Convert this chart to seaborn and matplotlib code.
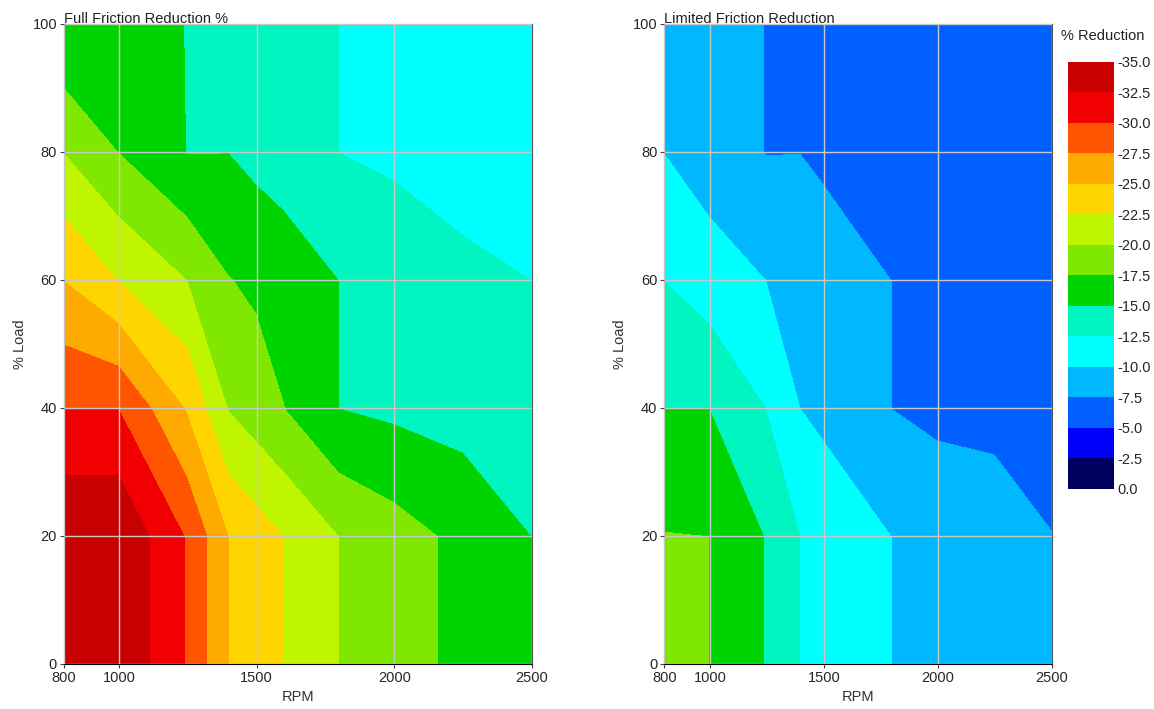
import matplotlib
matplotlib.use("Agg")
import matplotlib.pyplot as plt
from matplotlib.colors import ListedColormap, BoundaryNorm
import seaborn as sns

# grid of the friction tables
rpm = [800, 1000, 1250, 1400, 1500, 1600, 1800, 2000, 2250, 2500]
load = [0, 20, 40, 60, 80, 100]

# one row per load value
full_reduction = [
    [-34.8, -34.8, -29.8, -25.0, -23.75, -22.5, -20.0, -18.6, -16.9, -15.0],
    [-34.8, -34.8, -29.8, -25.0, -23.75, -22.5, -20.0, -18.6, -16.9, -15.0],
    [-30.0, -30.0, -24.8, -19.9, -18.7, -17.55, -15.0, -14.5, -14.0, -13.5],
    [-25.0, -22.5, -20.0, -17.6, -17.08, -16.5, -15.0, -14.3, -13.0, -12.5],
    [-20.0, -17.5, -14.95, -14.98, -14.3, -13.75, -12.5, -12.0, -11.6, -11.2],
    [-15.1, -16.0, -14.95, -14.0, -13.6, -13.2, -12.5, -12.0, -11.5, -11.0],
]
limited_reduction = [
    [-17.6, -17.5, -14.9, -12.5, -11.9, -11.25, -10.0, -9.0, -8.4, -7.55],
    [-17.6, -17.5, -14.9, -12.5, -11.9, -11.25, -10.0, -9.0, -8.4, -7.55],
    [-15.0, -15.0, -12.5, -10.0, -9.37, -8.75, -7.5, -7.0, -7.0, -6.6],
    [-12.5, -11.24, -10.0, -9.2, -8.75, -8.3, -7.5, -7.0, -6.6, -6.2],
    [-10.0, -8.76, -7.45, -7.48, -7.09, -6.7, -6.5, -6.2, -5.9, -5.6],
    [-9.0, -8.5, -7.45, -7.0, -6.8, -6.6, -6.3, -6.0, -5.7, -5.4],
]

levels = [-35.0, -32.5, -30.0, -27.5, -25.0, -22.5, -20.0, -17.5,
          -15.0, -12.5, -10.0, -7.5, -5.0, -2.5, 0.0]
band_colors = ["#c80000", "#f00000", "#ff5500", "#ffaa00", "#ffd500",
               "#c0f500", "#80e800", "#00d400", "#00f5c0", "#00ffff",
               "#00b8ff", "#0060ff", "#0000ff", "#000060"]

sns.set_style("white")
plt.rcParams["font.family"] = ["Liberation Sans", "DejaVu Sans"]
plt.rcParams["axes.unicode_minus"] = False

cmap = ListedColormap(band_colors)
norm = BoundaryNorm(levels, cmap.N)

fig = plt.figure(figsize=(11.54, 7.09), dpi=100)
ax_full = fig.add_axes([0.0555, 0.0635, 0.4055, 0.9027])
ax_lim = fig.add_axes([0.5756, 0.0635, 0.3357, 0.9027])

for ax, values, title in [(ax_full, full_reduction, "Full Friction Reduction %"),
                          (ax_lim, limited_reduction, "Limited Friction Reduction")]:
    cs = ax.contourf(rpm, load, values, levels=levels, cmap=cmap, norm=norm)
    ax.set_xlim(800, 2500)
    ax.set_ylim(0, 100)
    ax.set_xticks([800, 1000, 1500, 2000, 2500])
    ax.set_yticks([0, 20, 40, 60, 80, 100])
    ax.set_axisbelow(False)
    ax.grid(True, color="#c8c8c8", linewidth=1)
    ax.tick_params(labelsize=10.5, length=3, width=0.8, color="#444444",
                   pad=2, direction="out", bottom=True, left=True)
    ax.set_xlabel("RPM", fontsize=10.5, labelpad=4, color="#333333")
    ax.set_ylabel("% Load", fontsize=10.5, labelpad=4, color="#333333")
    ax.set_title(title, loc="left", fontsize=10.5, pad=1, color="#222222")
    for side in ["left", "bottom"]:
        ax.spines[side].set_color("#000000")
    for side in ["top", "right"]:
        ax.spines[side].set_color("#555555")

cax = fig.add_axes([0.9252, 0.3103, 0.0404, 0.6027])
cb = fig.colorbar(cs, cax=cax, ticks=levels, format="%.1f")
cax.invert_yaxis()
cb.outline.set_visible(False)
cax.tick_params(labelsize=10.5, length=0, pad=2)
fig.text(0.9195, 0.949, "% Reduction", fontsize=10.5, color="#222222",
         ha="left", va="center")

fig.savefig("out.png", dpi=100)
